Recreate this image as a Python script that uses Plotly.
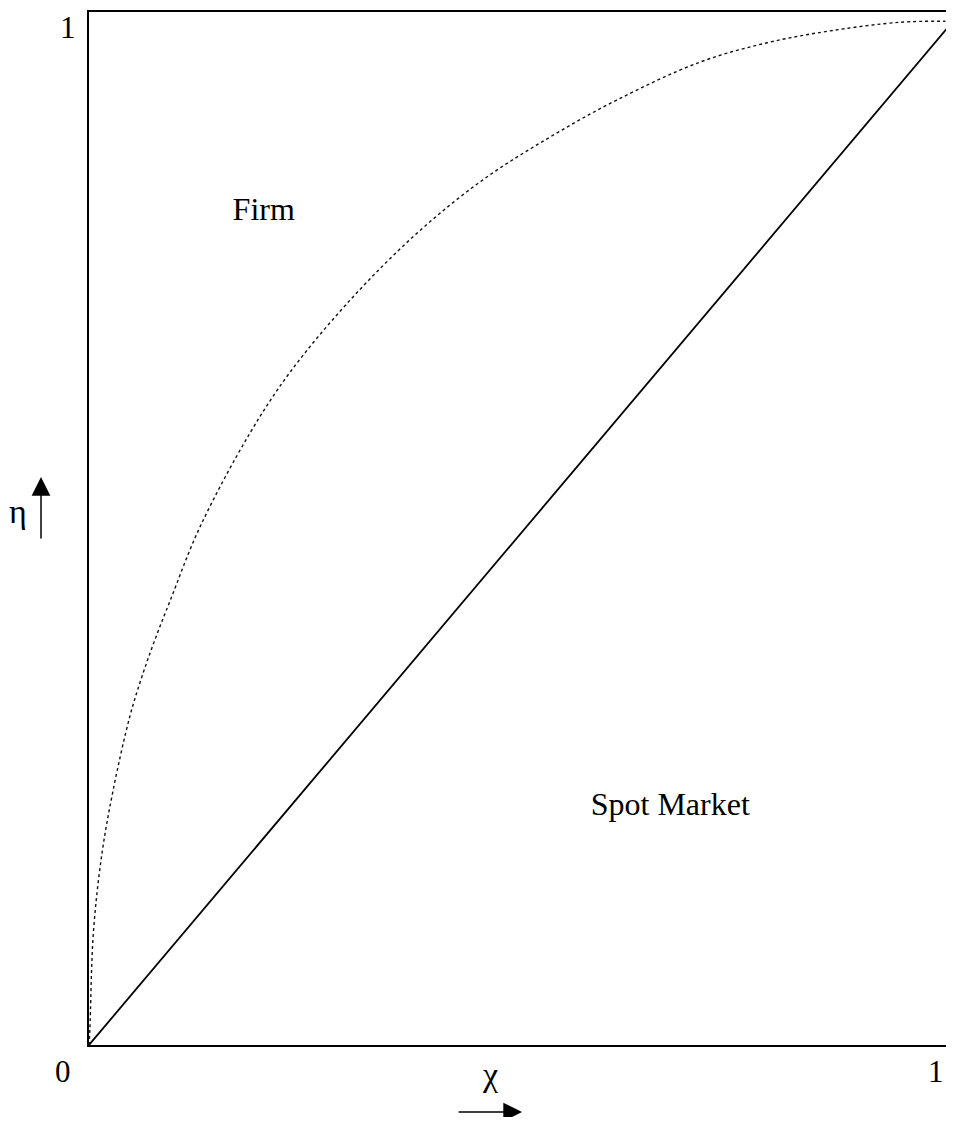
import plotly.graph_objects as go

# -----------------------------
# Data
# -----------------------------
curve_x = [0.0, 0.001, 0.005, 0.015, 0.028, 0.047, 0.061, 0.076, 0.094, 0.128,
           0.186, 0.232, 0.302, 0.379, 0.455, 0.533, 0.610, 0.706, 0.784,
           0.860, 0.938, 0.990]
curve_y = [0.0, 0.015, 0.109, 0.187, 0.249, 0.320, 0.359, 0.395, 0.434, 0.505,
           0.597, 0.656, 0.727, 0.792, 0.844, 0.886, 0.922, 0.959, 0.978,
           0.990, 0.998, 0.999]

diag_x = [0, 1]
diag_y = [0, 1]

region_labels = ["Firm", "Spot Market"]
region_x = [0.202, 0.672]
region_y = [0.813, 0.232]

SERIF = "Liberation Serif, Times New Roman, serif"
INK = "#000000"

fig = go.Figure()

# dotted boundary curve
fig.add_trace(go.Scatter(
    x=curve_x, y=curve_y,
    mode="lines",
    line=dict(color="#111111", width=1.4, dash="dot", shape="spline"),
    showlegend=False, hoverinfo="skip"
))

# 45-degree line
fig.add_trace(go.Scatter(
    x=diag_x, y=diag_y,
    mode="lines",
    line=dict(color=INK, width=1.8),
    showlegend=False, hoverinfo="skip"
))

# region labels
fig.add_trace(go.Scatter(
    x=region_x, y=region_y,
    mode="text",
    text=region_labels,
    textfont=dict(family=SERIF, size=32, color=INK),
    showlegend=False, hoverinfo="skip"
))

# -----------------------------
# Corner labels, axis symbols, arrows
# -----------------------------
annotations = [
    dict(text="1", x=-0.0245, y=0.985, size=31),
    dict(text="0", x=-0.0303, y=-0.0261, size=31),
    dict(text="1", x=0.988, y=-0.0261, size=31),
    dict(text="χ", x=0.4679, y=-0.029, size=34),
    dict(text="η", x=-0.0828, y=0.516, size=34),
]
for a in annotations:
    size = a.pop("size")
    a.update(xref="paper", yref="paper", showarrow=False,
             xanchor="center", yanchor="middle",
             font=dict(family=SERIF, size=size, color=INK))

annotations.append(dict(
    x=0.5053, y=-0.0649, xref="paper", yref="paper",
    ax=-65, ay=0, text="", showarrow=True,
    arrowhead=2, arrowsize=2.5, arrowwidth=1.5, arrowcolor=INK
))
annotations.append(dict(
    x=-0.056, y=0.5499, xref="paper", yref="paper",
    ax=0, ay=63, text="", showarrow=True,
    arrowhead=2, arrowsize=2.5, arrowwidth=1.5, arrowcolor=INK
))

fig.update_layout(
    width=938,
    height=1109,
    margin=dict(l=81, r=0, t=4, b=72),
    plot_bgcolor="white",
    paper_bgcolor="white",
    annotations=annotations,
    xaxis=dict(
        range=[0, 857 / 865],
        showgrid=False, zeroline=False,
        showticklabels=False, ticks="",
        showline=True, linecolor=INK, linewidth=2, mirror=True
    ),
    yaxis=dict(
        range=[0, 1.008],
        showgrid=False, zeroline=False,
        showticklabels=False, ticks="",
        showline=True, linecolor=INK, linewidth=2, mirror=False
    ),
)

fig.write_html("out.html")
